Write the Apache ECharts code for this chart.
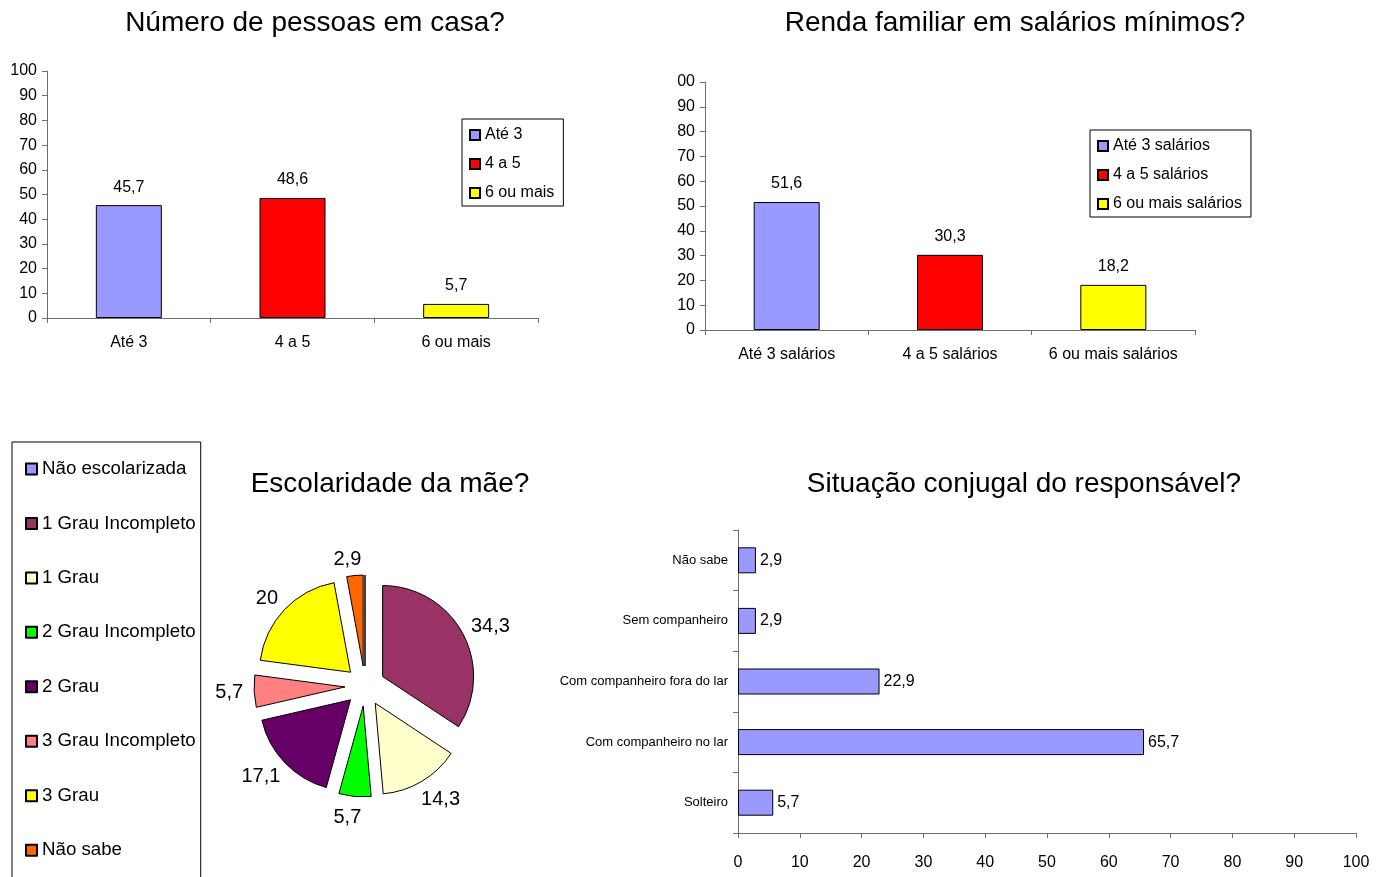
<!DOCTYPE html>
<html>
<head>
<meta charset="utf-8">
<script src="https://cdn.jsdelivr.net/npm/echarts@6/dist/echarts.min.js"></script>
<style>
html,body{margin:0;padding:0;background:#fff;}
#c{width:1387px;height:877px;}
</style>
</head>
<body>
<div id="c"></div>
<script>
// ---- Data ----
const pessoasCats = ['Até 3', '4 a 5', '6 ou mais'];
const pessoasVals = [45.7, 48.6, 5.7];
const rendaCats = ['Até 3 salários', '4 a 5 salários', '6 ou mais salários'];
const rendaVals = [51.6, 30.3, 18.2];
const yTickLabels = ['0','10','20','30','40','50','60','70','80','90','100'];
const yTickLabelsRenda = ['0','10','20','30','40','50','60','70','80','90','00'];
const escCats = ['Não escolarizada','1 Grau Incompleto','1 Grau','2 Grau Incompleto','2 Grau','3 Grau Incompleto','3 Grau','Não sabe'];
const escVals = [0, 34.3, 14.3, 5.7, 17.1, 5.7, 20, 2.9];
const conjCats = ['Solteiro','Com companheiro no lar','Com companheiro fora do lar','Sem companheiro','Não sabe'];
const conjVals = [5.7, 65.7, 22.9, 2.9, 2.9];

const barColors = ['#9999FF', '#FF0000', '#FFFF00'];
const pieColors = ['#9999FF','#993366','#FFFFCC','#00FF00','#660066','#FF8080','#FFFF00','#FF6600'];

const FONT = "'Liberation Sans', Arial, sans-serif";
const NARROW = "'Liberation Sans Narrow', 'Arial Narrow', 'Liberation Sans', sans-serif";
const fmt = v => String(v).replace('.', ',');
const axisColor = '#6e6e6e';
const PIE_CENTER = [365, 686];

function catSeries(cats, vals, gridIdx) {
  return cats.map((name, i) => ({
    type: 'bar', name: name,
    xAxisIndex: gridIdx, yAxisIndex: gridIdx,
    barGap: '-100%', barWidth: 66,
    data: cats.map((c, j) => j === i ? vals[j] : '-'),
    itemStyle: { color: barColors[i], borderColor: '#000', borderWidth: 1 },
    label: { show: true, position: 'top', distance: 10, fontFamily: FONT, fontSize: 16, color: '#000',
             formatter: p => fmt(p.value) },
    emphasis: { disabled: true }
  }));
}

function legendBox(left, top, names) {
  return {
    left: left, top: top, orient: 'vertical', data: names,
    padding: [7, 9, 4, 7], itemGap: 11, itemWidth: 10, itemHeight: 10, icon: 'rect',
    borderColor: '#000', borderWidth: 1,
    textStyle: { fontFamily: FONT, fontSize: 16, lineHeight: 18, color: '#000' },
    selectedMode: false
  };
}

function valueYAxis(gridIdx, labels) {
  return {
    gridIndex: gridIdx, type: 'value', min: 0, max: 100, interval: 10,
    axisLine: { show: true, lineStyle: { color: axisColor } },
    axisTick: { show: true, length: 5, lineStyle: { color: axisColor } },
    splitLine: { show: false },
    axisLabel: { fontFamily: FONT, fontSize: 16, color: '#000', margin: 10,
                 formatter: (v) => labels[Math.round(v / 10)] }
  };
}
function catXAxis(gridIdx, cats) {
  return {
    gridIndex: gridIdx, type: 'category', data: cats,
    axisLine: { show: true, lineStyle: { color: axisColor } },
    axisTick: { show: true, length: 5, lineStyle: { color: axisColor } },
    axisLabel: { fontFamily: FONT, fontSize: 16, color: '#000', margin: 17, interval: 0 }
  };
}

const chart = echarts.init(document.getElementById('c'));
const titleStyle = { fontFamily: FONT, fontSize: 28, fontWeight: 'normal', color: '#000' };
const option = {
  animation: false,
  backgroundColor: '#fff',
  title: [
    { text: 'Número de pessoas em casa?', left: 315, top: 9, textAlign: 'center', padding: 0, textStyle: titleStyle },
    { text: 'Renda familiar em salários mínimos?', left: 1015, top: 9, textAlign: 'center', padding: 0, textStyle: titleStyle },
    { text: 'Escolaridade da mãe?', left: 390, top: 470, textAlign: 'center', padding: 0, textStyle: titleStyle },
    { text: 'Situação conjugal do responsável?', left: 1024, top: 470, textAlign: 'center', padding: 0, textStyle: titleStyle }
  ],
  legend: [
    legendBox(462, 119, pessoasCats),
    legendBox(1090, 130, rendaCats),
    {
      left: 12, top: 442, height: 480, orient: 'vertical', data: escCats,
      padding: [17, 5, 40, 13], itemGap: 34.45, itemWidth: 11, itemHeight: 11, icon: 'rect',
      borderColor: '#000', borderWidth: 1,
      textStyle: { fontFamily: FONT, fontSize: 18.7, lineHeight: 20, color: '#000' },
      selectedMode: false
    }
  ],
  grid: [
    { left: 47, right: 849, top: 71, bottom: 559 },
    { left: 705, right: 192, top: 82, bottom: 547 },
    { left: 738, right: 31, top: 530, bottom: 44 }
  ],
  xAxis: [
    catXAxis(0, pessoasCats),
    catXAxis(1, rendaCats),
    {
      gridIndex: 2, type: 'value', min: 0, max: 100, interval: 10,
      axisLine: { show: true, lineStyle: { color: axisColor } },
      axisTick: { show: true, length: 5, lineStyle: { color: axisColor } },
      splitLine: { show: false },
      axisLabel: { fontFamily: NARROW, fontSize: 16, color: '#000', margin: 22,
                   formatter: v => yTickLabels[Math.round(v / 10)] }
    }
  ],
  yAxis: [
    valueYAxis(0, yTickLabels),
    valueYAxis(1, yTickLabelsRenda),
    {
      gridIndex: 2, type: 'category', data: conjCats,
      axisLine: { show: true, lineStyle: { color: axisColor } },
      axisTick: { show: true, length: 5, lineStyle: { color: axisColor } },
      axisLabel: { fontFamily: NARROW, fontSize: 13, color: '#000', margin: 10 }
    }
  ],
  series: [
    ...catSeries(pessoasCats, pessoasVals, 0),
    ...catSeries(rendaCats, rendaVals, 1),
    {
      type: 'bar', name: 'Situação conjugal', xAxisIndex: 2, yAxisIndex: 2,
      barWidth: 26, data: conjVals,
      itemStyle: { color: '#9999FF', borderColor: '#000', borderWidth: 1 },
      label: { show: true, position: 'right', distance: 4, fontFamily: NARROW, fontSize: 16, color: '#000',
               formatter: p => fmt(p.value) },
      emphasis: { disabled: true }
    },
    {
      type: 'pie', name: 'Escolaridade', center: PIE_CENTER, radius: 91,
      startAngle: 90, clockwise: true,
      selectedMode: 'multiple', selectedOffset: 20,
      avoidLabelOverlap: false,
      itemStyle: { borderColor: '#000', borderWidth: 1 },
      label: { show: true, position: 'outside', fontFamily: FONT, fontSize: 20, color: '#000',
               formatter: p => fmt(p.value) },
      labelLine: { show: false, length: 6, length2: 0 },
      labelLayout: function (p) {
        const r = p.labelRect;
        const isRight = p.align ? p.align === 'right' : (r.x + r.width / 2 < PIE_CENTER[0]);
        const ax = isRight ? r.x + r.width : r.x;
        const ay = r.y + r.height / 2;
        let ux = ax - PIE_CENTER[0], uy = ay - PIE_CENTER[1];
        const n = Math.hypot(ux, uy) || 1; ux /= n; uy /= n;
        const sx = isRight ? -1 : 1;
        return { dx: (ux - sx) * r.width / 2, dy: uy * r.height / 2 + (uy > 0 ? uy * 5 : 0) };
      },
      emphasis: { disabled: true },
      select: { itemStyle: { borderColor: '#000', borderWidth: 1 } },
      data: escCats.map((n, i) => {
        const d = { name: n, value: escVals[i], selected: true, itemStyle: { color: pieColors[i] } };
        if (escVals[i] === 0) { d.label = { show: false }; }
        return d;
      })
    }
  ]
};
chart.setOption(option);
</script>
</body>
</html>
